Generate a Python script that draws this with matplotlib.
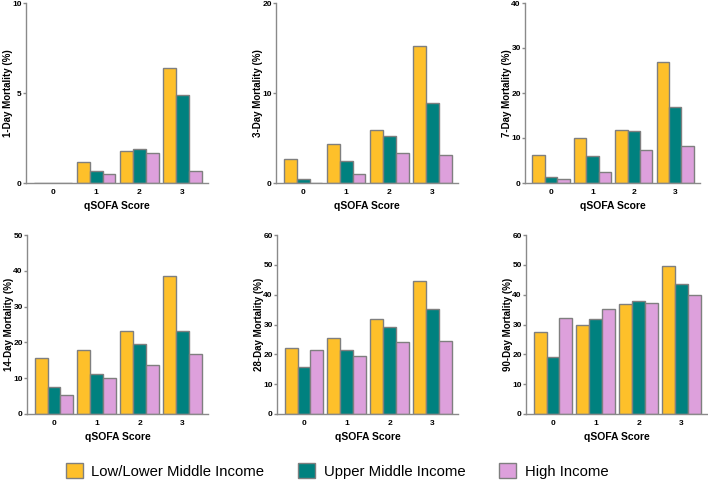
import matplotlib.pyplot as plt
from matplotlib.patches import Patch
import numpy as np

plt.rcParams['font.family'] = ['Liberation Sans', 'DejaVu Sans']

scores = ["0", "1", "2", "3"]
groups = ["Low/Lower Middle Income", "Upper Middle Income", "High Income"]
colors = ["#FEC02A", "#00817F", "#DDA0DC"]

ylabels = ["1-Day Mortality (%)", "3-Day Mortality (%)", "7-Day Mortality (%)",
           "14-Day Mortality (%)", "28-Day Mortality (%)", "90-Day Mortality (%)"]
ymax = [10, 20, 40, 50, 60, 60]
ystep = [5, 10, 10, 10, 10, 10]

# values per panel: [low/lower middle, upper middle, high], each over qSOFA 0..3
day1 = [[0.0, 1.17, 1.78, 6.39], [0.0, 0.67, 1.88, 4.91], [0.0, 0.52, 1.69, 0.67]]
day3 = [[2.68, 4.35, 5.91, 15.17], [0.45, 2.49, 5.2, 8.92], [0.0, 1.04, 3.38, 3.09]]
day7 = [[6.3, 9.9, 11.8, 26.8], [1.4, 6.1, 11.45, 16.95], [0.97, 2.5, 7.3, 8.3]]
day14 = [[15.6, 18.0, 23.1, 38.5], [7.5, 11.06, 19.5, 23.3], [5.3, 10.1, 13.7, 16.7]]
day28 = [[22.0, 25.5, 31.9, 44.7], [15.6, 21.6, 29.3, 35.3], [21.4, 19.4, 24.3, 24.6]]
day90 = [[27.4, 30.0, 37.0, 49.5], [19.2, 31.9, 37.8, 43.5], [32.1, 35.1, 37.1, 40.0]]
panels = [day1, day3, day7, day14, day28, day90]

# axes boxes in pixels: left, top, right, bottom
boxes = [(26, 3, 208, 183), (276, 3, 458, 183), (525, 3, 700, 183),
         (27, 235, 208, 414), (277, 235, 458, 414), (526, 235, 707, 414)]

W, H = 708, 480
fig = plt.figure(figsize=(W / 100, H / 100), dpi=100)
axis_col = "#8a8a8a"
x = np.arange(len(scores))
bw = 0.3

for i, data in enumerate(panels):
    l, t, r, b = boxes[i]
    ax = fig.add_axes([l / W, 1 - b / H, (r - l) / W, (b - t) / H])
    for j, vals in enumerate(data):
        ax.bar(x + (j - 1) * bw, vals, bw, color=colors[j],
               edgecolor="#7f7f7f", linewidth=1.0)
    ax.set_xlim(-0.63, 3.6)
    ax.set_ylim(0, ymax[i])
    ax.set_yticks(np.arange(0, ymax[i] + 1, ystep[i]))
    ax.set_xticks(x)
    ax.set_xticklabels(scores)
    for s in ["top", "right"]:
        ax.spines[s].set_visible(False)
    for s in ["left", "bottom"]:
        ax.spines[s].set_color(axis_col)
        ax.spines[s].set_linewidth(1.0)
    ax.tick_params(axis="y", length=2.5, width=1, color=axis_col, pad=0.5,
                   labelsize=6)
    ax.tick_params(axis="x", length=0, pad=4, labelsize=6)
    for lab in ax.get_xticklabels() + ax.get_yticklabels():
        lab.set_fontweight("bold")
    ax.set_ylabel(ylabels[i], fontsize=7, fontweight="bold")
    # right edge of the rotated label sits ~13 px left of the axis line
    ax.yaxis.set_label_coords(-13 / (r - l), 0.5)
    ax.set_xlabel("qSOFA Score", fontsize=7.5, fontweight="bold", labelpad=4)

handles = [Patch(facecolor=c, edgecolor="#7f7f7f", linewidth=1.0) for c in colors]
fig.legend(handles, groups, loc="center", bbox_to_anchor=(0.476, 1 - 471 / H),
           ncol=3, frameon=False, fontsize=10.7, handlelength=1.15,
           handleheight=1.15, columnspacing=2.3, handletextpad=0.55,
           borderaxespad=0, borderpad=0)

fig.savefig("out.png", dpi=100)
